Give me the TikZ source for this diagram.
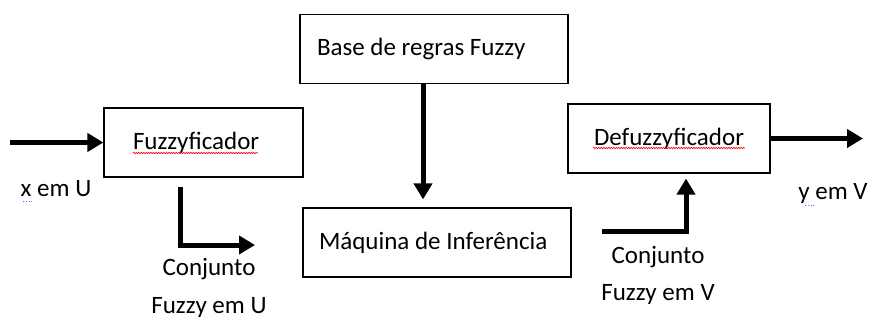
\documentclass[tikz,border=0pt]{standalone}
\usepackage{fontspec}
\setmainfont{Carlito}
\usetikzlibrary{positioning,arrows.meta,decorations.pathmorphing}

\begin{document}
\begin{tikzpicture}[x=1pt,y=-1pt,
    every node/.style={font=\fontsize{25}{30}\selectfont},
    bloco/.style={draw,line width=1.2pt,minimum height=69pt,inner sep=0pt},
    seta/.style={line width=5pt,-{Triangle[length=16pt,width=18pt]}},
    rotulo/.style={anchor=base,inner sep=0pt},
    ondulado/.style={red,line width=0.6pt,decorate,decoration={snake,amplitude=0.7pt,segment length=2.5pt}}]
    \useasboundingbox (0,0) rectangle (877,320);
    % blocos
    \node[bloco,inner xsep=29pt,text width=141pt,align=flush left] (fuzz) at (203.5,142.5) {Fuzzyficador};
    \node[bloco,inner xsep=17pt,text width=234pt,align=flush left] (base) at (434,49) {Base de regras Fuzzy};
    \node[bloco,inner xsep=16pt,text width=236pt,align=flush left] (maq) at (437,242.5) {M\'aquina de Infer\^encia};
    \node[bloco,minimum width=202pt] (defuzz) at (669,138.5) {Defuzzyficador};
    % extremidades livres
    \coordinate (entrada) at (10,142.5);
    \coordinate (saida) at (863,138.5);
    \coordinate (cu) at (255,245);
    \coordinate (cv) at (602,232);
    % setas
    \draw[seta] (entrada) -- (fuzz.west);
    \draw[seta] (defuzz.east) -- (saida);
    \draw[seta,shorten >=8pt] ([xshift=-11pt]base.south) -- ([xshift=-14pt]maq.north);
    \draw[seta,shorten <=9pt] ([xshift=-23.5pt]fuzz.south) |- (cu);
    \draw[seta,shorten >=5pt] (cv) -| ([xshift=17pt]defuzz.south);
    % rotulos
    \node[rotulo] (xu) at (56,197) {x em U};
    \node[rotulo] (cju) at (209,275) {Conjunto};
    \node[rotulo] (fzu) at (209,313) {Fuzzy em U};
    \node[rotulo] (yv) at (833,200) {y em V};
    \node[rotulo] (cjv) at (658,263) {Conjunto};
    \node[rotulo] (fzv) at (658,300) {Fuzzy em V};
    % sublinhados
    \draw[ondulado] (133,153) -- (258,153);
    \draw[ondulado] (593,148) -- (745,148);
    \draw[blue!60,dotted,line width=0.8pt] (23,201) -- (33,201);
    \draw[blue!60,dotted,line width=0.8pt] (805,205) -- (815,205);
\end{tikzpicture}
\end{document}
